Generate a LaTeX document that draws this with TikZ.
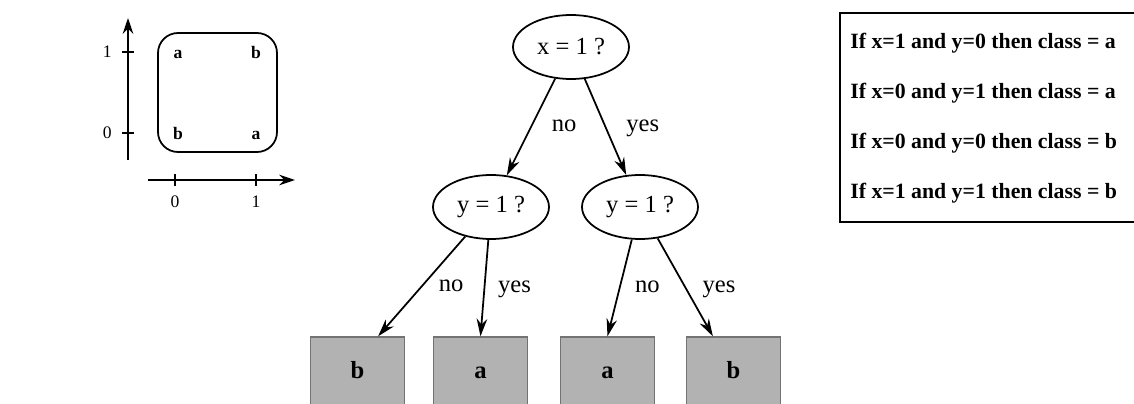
\documentclass[tikz,border=0pt]{standalone}
\usepackage{fontspec}
\setmainfont{Liberation Serif}
\usetikzlibrary{shapes.geometric,arrows.meta}
\tikzset{
  test/.style={ellipse,draw,line width=1pt,minimum width=2.32cm,minimum height=1.28cm,inner sep=0pt,font=\fontsize{14}{16}\selectfont},
  leaf/.style={rectangle,draw=black!55,fill=black!30,line width=0.8pt,minimum width=1.88cm,minimum height=1.4cm,text height=1.6ex,text depth=0pt,font=\fontsize{14}{16}\selectfont\bfseries},
  edge/.style={line width=1pt,-{Stealth[length=10pt,width=6pt]}},
  lab/.style={text height=1.6ex,text depth=0.4ex,font=\fontsize{14}{16}\selectfont},
  rule/.style={anchor=west,inner sep=0pt,font=\fontsize{12.4}{14}\selectfont\bfseries},
  pt/.style={text height=1.6ex,text depth=0pt,font=\fontsize{10}{11}\selectfont\bfseries},
  num/.style={font=\fontsize{10}{11}\selectfont}
}
\begin{document}
\begin{tikzpicture}[x=0.02cm,y=0.02cm]
  \useasboundingbox (0,0) rectangle (1134,403);
  \clip (0,0) rectangle (1134,403);
  \fill[white] (0,0) rectangle (1134,403);

  \draw[line width=1pt,-{Stealth[length=9pt,width=6pt]}] (128,243) -- (128,385);
  \draw[line width=1pt,-{Stealth[length=9pt,width=6pt]}] (148,223) -- (295,223);
  \foreach \y/\t in {351/1,270/0}
    \draw[line width=1pt] (122,\y) -- (134,\y) node[num,pos=0,left=2pt] (y\t) {\t};
  \foreach \x/\t in {175/0,256/1}
    \draw[line width=1pt] (\x,217) -- (\x,229) node[num,pos=0,below=2pt] (x\t) {\t};
  \draw[line width=1pt,rounded corners=0.4cm] (158,251) rectangle (277,370);
  \node[pt] (p01) at (178,351) {a};
  \node[pt] (p11) at (256,351) {b};
  \node[pt] (p00) at (178,270) {b};
  \node[pt] (p10) at (256,270) {a};

  \node[test] (rx) at (571,356) {x = 1 ?};
  \node[test] (ly) at (491,196) {y = 1 ?};
  \node[test] (ry) at (640,196) {y = 1 ?};
  \node[leaf] (lb) at (357.5,31) {b};
  \node[leaf] (la) at (480.5,31) {a};
  \node[leaf] (ra) at (607.5,31) {a};
  \node[leaf] (rb) at (733.5,31) {b};
  \draw[edge] (rx) -- node[lab,midway,right=8pt] {no} (ly);
  \draw[edge] (rx) -- node[lab,midway,right=8pt] {yes} (ry);
  \draw[edge] (ly) -- node[lab,midway,right=6pt] {no} (lb.60);
  \draw[edge] (ly) -- node[lab,midway,right=4pt] {yes} (la.north);
  \draw[edge] (ry) -- node[lab,midway,right=5pt] {no} (ra.north);
  \draw[edge] (ry) -- node[lab,midway,right=6pt] {yes} (rb.120);

  \draw[line width=1pt] (840,181) rectangle (1150,390);
  \foreach \i/\r in {1/{If x=1 and y=0 then class = a},2/{If x=0 and y=1 then class = a},3/{If x=0 and y=0 then class = b},4/{If x=1 and y=1 then class = b}}
    \node[rule] (r\i) at (850,410-50*\i) {\r};
\end{tikzpicture}
\end{document}
